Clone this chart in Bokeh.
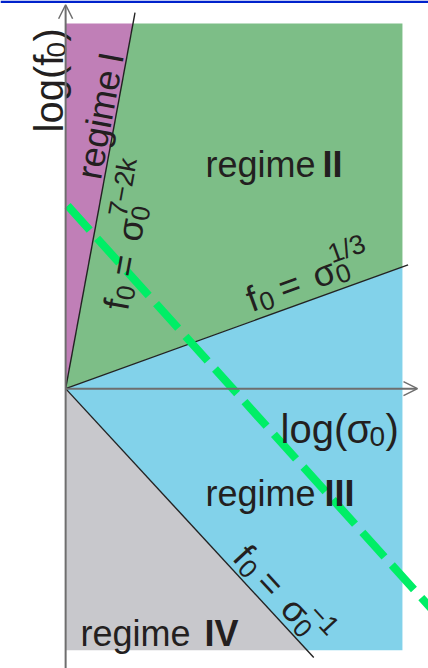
import math
from bokeh.plotting import figure
from bokeh.models import Range1d, Arrow, OpenHead
from bokeh.core.properties import value
from bokeh.embed import file_html
from bokeh.resources import INLINE

# ---- data (log units) -------------------------------------------------
x_view = [-0.58, 3.232]          # log(sigma0) window
y_view = [-2.30, 3.19]           # log(f0) window

sigma_max = 3.0                  # right edge of shaded map
f_max = 3.0                      # top edge of shaded map
f_min = -2.15                    # bottom edge of shaded map

k = 1
exp_I_II = 7 - 2 * k             # f0 = sigma0^(7-2k)
exp_II_III = 1.0 / 3.0           # f0 = sigma0^(1/3)
exp_III_IV = -1.0                # f0 = sigma0^(-1)

reach_I_II = 3.09                # boundary lines run a little past the map
reach_II_III = 3.05
reach_III_IV = 2.21

dash_x = [0.018, 3.30]           # dashed green path
dash_y = [1.504, -1.853]

axis_tip_x = 3.134
axis_tip_y = 3.155

regime_names = ["I", "II", "III", "IV"]
regime_colors = ["#C07FB7", "#7DBE87", "#82D2EA", "#C8C8CC"]

# ---- figure ------------------------------------------------------------
W, H = 428, 668
p = figure(width=W, height=H, x_range=Range1d(*x_view), y_range=Range1d(*y_view),
           x_axis_type=None, y_axis_type=None, toolbar_location=None,
           output_backend="svg", min_border=0)
p.outline_line_color = None
p.grid.visible = False
p.background_fill_color = "white"
p.border_fill_color = "white"

kx = W / (x_view[1] - x_view[0])      # px per unit
ky = H / (y_view[1] - y_view[0])

def px2d(px, py):
    return x_view[0] + px / kx, y_view[1] - py / ky

FONT = "Liberation Sans"
INK = "#231F20"

# ---- shaded regimes ----------------------------------------------------
s_I = f_max / exp_I_II
s_IV = f_min / exp_III_IV
f_III = sigma_max * exp_II_III
polys = [
    ([0, s_I, 0], [0, f_max, f_max]),
    ([0, s_I, sigma_max, sigma_max], [0, f_max, f_max, f_III]),
    ([0, sigma_max, sigma_max, s_IV], [0, f_III, f_min, f_min]),
    ([0, s_IV, 0], [0, f_min, f_min]),
]
for (xs, ys), c in zip(polys, regime_colors):
    p.patch(xs, ys, fill_color=c, line_color=None)

# ---- boundary lines ----------------------------------------------------
p.line([0, reach_I_II / exp_I_II], [0, reach_I_II], line_color="#222222", line_width=1.4)
p.line([0, reach_II_III], [0, reach_II_III * exp_II_III], line_color="#222222", line_width=1.4)
p.line([0, reach_III_IV], [0, reach_III_IV * exp_III_IV], line_color="#222222", line_width=1.4)

# ---- axes with open arrow heads ---------------------------------------
AX = "#6E6E6E"
p.add_layout(Arrow(end=OpenHead(size=14, line_color=AX, line_width=1.5),
                   x_start=0, y_start=y_view[0], x_end=0, y_end=axis_tip_y,
                   line_color=AX, line_width=2))
p.add_layout(Arrow(end=OpenHead(size=14, line_color=AX, line_width=1.5),
                   x_start=0, y_start=0, x_end=axis_tip_x, y_end=0,
                   line_color=AX, line_width=2))

# ---- dashed path -------------------------------------------------------
p.line(dash_x, dash_y, line_color="#00EE66", line_width=8, line_dash="33 11")

# ---- text helpers ------------------------------------------------------
def run(origin, ang, along, up, text, size, bold=False):
    x0, y0 = origin
    dx = along * math.cos(ang) - up * math.sin(ang)
    dy = along * math.sin(ang) + up * math.cos(ang)
    p.text(x=[x0 + dx / kx], y=[y0 + dy / ky], text=[text], angle=ang,
           text_font=value(FONT), text_font_size=f"{size}px",
           text_font_style="bold" if bold else "normal",
           text_color=INK, text_baseline="alphabetic", text_align="left")

def power_law(origin, ang, sup):
    run(origin, ang, 0, 0, "f", 36)
    run(origin, ang, 11, -7, "0", 26)
    run(origin, ang, 34, 0, "=", 36)
    run(origin, ang, 70, 0, "σ", 36)
    run(origin, ang, 92, -7, "0", 26)
    run(origin, ang, 92, 15, sup, 27)

ang_I_II = math.atan(exp_I_II * ky / kx)
ang_II_III = math.atan(exp_II_III * ky / kx)
ang_III_IV = math.atan(exp_III_IV * ky / kx)

power_law(px2d(115, 309), ang_I_II, "7\u22122k")
power_law(px2d(247, 300), ang_II_III, "1/3")
power_law(px2d(240, 550), ang_III_IV, "\u22121")

# regime labels
def regime(origin, ang, numeral, gap, bold=True):
    run(origin, ang, 0, 0, "regime", 36)
    run(origin, ang, gap, 0, numeral, 36, bold)

regime(px2d(88, 178), ang_I_II, regime_names[0], 118, bold=False)
regime(px2d(205, 164), 0, regime_names[1], 117)
regime(px2d(205, 493), 0, regime_names[2], 119)
regime(px2d(80, 633), 0, regime_names[3], 124)

# axis titles
o = px2d(48, 132)
run(o, math.pi / 2, 0, 0, "log(f", 40)
run(o, math.pi / 2, 75, -8, "0", 28)
run(o, math.pi / 2, 91, 0, ")", 40)

o = px2d(280, 428)
run(o, 0, 0, 0, "log(", 40)
run(o, 0, 66, 0, "σ", 40)
run(o, 0, 89, -8, "0", 28)
run(o, 0, 105, 0, ")", 40)

# top rule
p.quad(left=x_view[0], right=x_view[1], bottom=y_view[1] - 2.5 / ky, top=y_view[1],
       fill_color="#0022CC", line_color=None)

open("out.html", "w").write(file_html(p, INLINE))
